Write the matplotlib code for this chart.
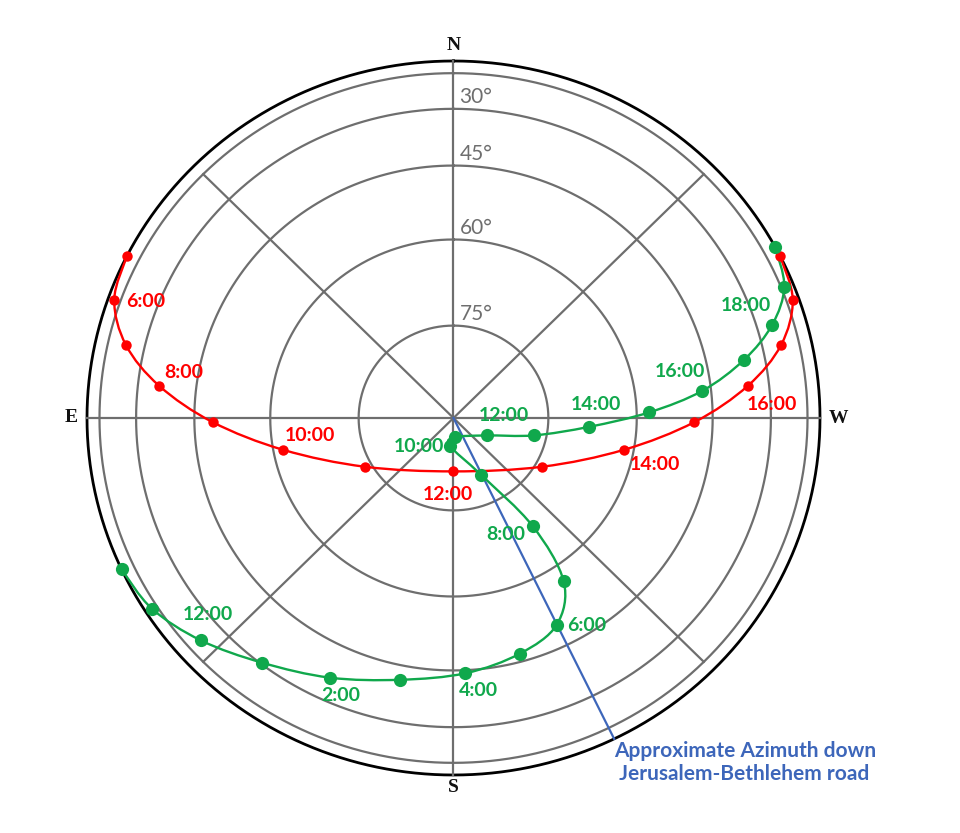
import numpy as np
import matplotlib.pyplot as plt
from matplotlib.path import Path
from matplotlib.patches import PathPatch

# sun path (red), hourly from 5:00 to 19:00 - azimuth / altitude in degrees
red_az = [63.0, 70.3, 77.1, 83.6, 91.0, 100.9, 119.5, 180.0,
          240.5, 259.1, 269.0, 276.4, 282.9, 289.7, 297.0]
red_alt = [0.0, 10.5, 23.5, 36.1, 48.9, 61.8, 73.9, 81.4,
           73.9, 61.8, 48.9, 36.1, 23.5, 10.5, 0.0]
red_labels = {1: "6:00", 3: "8:00", 5: "10:00", 7: "12:00", 9: "14:00", 11: "16:00"}

# second path (green), hourly from 10:00 through the night to 20:00
green_az = [115.1, 123.0, 132.1, 142.7, 155.1, 168.7, 182.6, 195.3, 205.9, 213.3,
            215.5, 205.2, 172.8, 184.4, 241.6, 257.5, 266.2, 271.7, 276.4, 281.6,
            286.7, 292.2, 298.7]
green_alt = [0.0, 11.2, 21.7, 30.5, 36.7, 41.6, 44.3, 46.8, 49.9, 56.8,
             68.2, 79.9, 85.5, 86.9, 84.1, 77.0, 68.2, 57.7, 46.9, 36.0,
             24.8, 12.9, 0.0]
green_labels = {2: "12:00", 4: "2:00", 6: "4:00", 8: "6:00", 10: "8:00", 12: "10:00",
                14: "12:00", 16: "14:00", 18: "16:00", 20: "18:00"}

ring_alts = [15, 30, 45, 60, 75]
ring_labels = {30: "30°", 45: "45°", 60: "60°", 75: "75°"}
road_az = 206.0

# label offsets in pixels (right, up) from their point
red_off = {1: (31, -2), 3: (25, 13), 5: (27, 14), 7: (-6, -23), 9: (31, -15), 11: (24, -19)}
green_off = {2: (7, 26), 4: (11, -18), 6: (13, -17), 8: (30, -1), 10: (-27, -9),
             12: (-31, -1), 14: (17, 20), 16: (7, 22), 18: (-22, 19), 20: (-26, 19)}

RED = "#FF0000"
GREEN = "#10A84C"
GRAY = "#6E6E6E"
BLUE = "#3D66BA"
LABEL_FONT = "Lato"


def sky_xy(az, alt):
    az = np.radians(np.asarray(az, dtype=float))
    alt = np.radians(np.asarray(alt, dtype=float))
    r = np.cos(alt)
    return -r * np.sin(az), r * np.cos(az)


def smooth_path(x, y):
    pts = np.column_stack([x, y])
    verts = [pts[0]]
    codes = [Path.MOVETO]
    n = len(pts)
    for i in range(n - 1):
        p0 = pts[i - 1] if i > 0 else pts[i]
        p1, p2 = pts[i], pts[i + 1]
        p3 = pts[i + 2] if i + 2 < n else pts[i + 1]
        verts += [p1 + (p2 - p0) / 6, p2 - (p3 - p1) / 6, p2]
        codes += [Path.CURVE4] * 3
    return Path(verts, codes)


cx, cy, rx, ry = 453.5, 418.0, 366.5, 357.0
W, H = 960, 833

fig = plt.figure(figsize=(W / 100, H / 100), dpi=100)
ax = fig.add_axes([0, 0, 1, 1])
ax.set_xlim(-cx / rx, (W - cx) / rx)
ax.set_ylim((cy - H) / ry, cy / ry)
ax.axis("off")

circ = np.linspace(0, 360, 721)
for alt in ring_alts:
    x, y = sky_xy(circ, np.full_like(circ, alt))
    ax.plot(x, y, color=GRAY, lw=1.6, zorder=1)
x, y = sky_xy(circ, np.zeros_like(circ))
ax.plot(x, y, color="black", lw=2.0, zorder=1)

for az in range(0, 360, 45):
    end_alt = 0 if az % 90 == 0 else 15
    x, y = sky_xy([az, az], [90, end_alt])
    ax.plot(x, y, color=GRAY, lw=1.6, zorder=1)

for alt, txt in ring_labels.items():
    x, y = sky_xy(0, alt)
    ax.annotate(txt, (x, y), xytext=(6, 1.5), textcoords="offset pixels",
                ha="left", va="bottom", color=GRAY, fontsize=15,
                family=LABEL_FONT)

for txt, az, off in [("N", 0, (0, 15)), ("E", 90, (-16, 0)),
                     ("W", 270, (18, 0)), ("S", 180, (0, -13))]:
    x, y = sky_xy(az, 0)
    ax.annotate(txt, (x, y), xytext=off, textcoords="offset pixels",
                ha="center", va="center", fontsize=14, fontweight="bold",
                family="Liberation Serif", color="#111111")

# road azimuth
x, y = sky_xy([road_az, road_az], [90, 0])
ax.plot(x, y, color=BLUE, lw=1.6, zorder=2)
ax.annotate("Approximate Azimuth down\n Jerusalem-Bethlehem road", (x[1], y[1]),
            xytext=(0, -2), textcoords="offset pixels", ha="left", va="top",
            color=BLUE, fontsize=15, fontweight="bold", family=LABEL_FONT,
            linespacing=1.2)

for az_l, alt_l, col, ms, labels, offs in [
        (red_az, red_alt, RED, 7.5, red_labels, red_off),
        (green_az, green_alt, GREEN, 9.5, green_labels, green_off)]:
    x, y = sky_xy(az_l, alt_l)
    ax.add_patch(PathPatch(smooth_path(x, y), fill=False, edgecolor=col,
                           lw=1.7, zorder=3))
    ax.plot(x, y, "o", color=col, ms=ms, mew=0, zorder=4)
    for i, txt in labels.items():
        ax.annotate(txt, (x[i], y[i]), xytext=offs[i], textcoords="offset pixels",
                    ha="center", va="center", color=col, fontsize=14,
                    fontweight="bold", family=LABEL_FONT)

fig.savefig("out.png", dpi=100)
